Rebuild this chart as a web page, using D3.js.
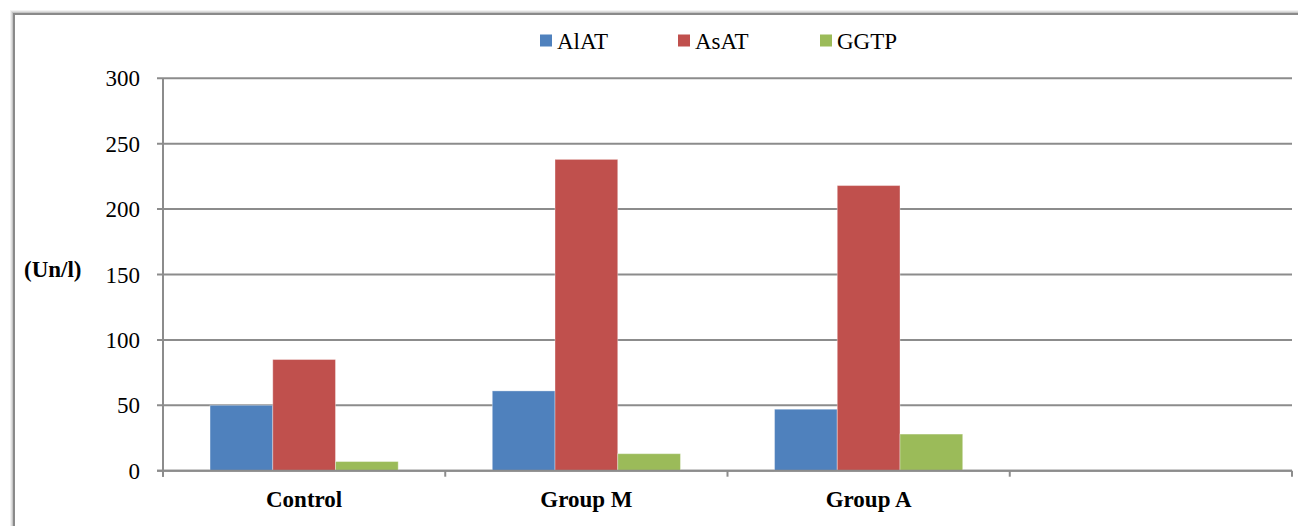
<!DOCTYPE html>
<html><head><meta charset="utf-8">
<script src="https://cdn.jsdelivr.net/npm/d3@7"></script>
<style>body{margin:0;background:#fff}</style>
</head><body><svg id="c" width="1298" height="526"></svg>
<script>
const categories = ["Control", "Group M", "Group A", ""];
const seriesNames = ["AlAT", "AsAT", "GGTP"];
const colors = ["#4F81BD", "#C0504D", "#9BBB59"];
const alat = [50, 61, 47, null];
const asat = [85, 238, 218, null];
const ggtp = [7, 13, 28, null];
const yTicks = [0, 50, 100, 150, 200, 250, 300];
const yLabel = "(Un/l)";

const series = [alat, asat, ggtp];
const svg = d3.select("#c");
const FF = `"Liberation Serif"`;

// chart area border with soft shadow (layered strokes)
[6, 4, 2].forEach((w, i) => {
  svg.append("rect").attr("x", 14).attr("y", 14).attr("width", 1400).attr("height", 700)
    .attr("fill", "none").attr("stroke", "#000").attr("stroke-opacity", 0.05 + i * 0.03).attr("stroke-width", w + 2);
});
svg.append("rect").attr("x", 14).attr("y", 14).attr("width", 1400).attr("height", 700)
  .attr("fill", "#fff").attr("stroke", "#8a8a8a").attr("stroke-width", 2);

const pL = 163, pR = 1292, pT = 78.3, pB = 470.7;
const x = d3.scaleBand().domain(d3.range(categories.length)).range([pL, pR]).padding(0);
const y = d3.scaleLinear().domain([0, 300]).range([pB, pT]);
const inner = d3.scaleBand().domain(d3.range(seriesNames.length)).range([0, x.bandwidth()]).paddingOuter(0.75).paddingInner(0);

svg.append("g").selectAll("line").data(yTicks).join("line")
  .attr("x1", pL - 6).attr("x2", pR).attr("y1", d => y(d)).attr("y2", d => y(d))
  .attr("stroke", "#8c8c8c").attr("stroke-width", 2);

svg.append("line").attr("x1", pL).attr("x2", pL).attr("y1", pT).attr("y2", pB + 6)
  .attr("stroke", "#8c8c8c").attr("stroke-width", 2);

const tickPos = d3.range(categories.length + 1).map(i => i < categories.length ? x(i) : pR);
svg.append("g").selectAll("line").data(tickPos).join("line")
  .attr("x1", d => d).attr("x2", d => d).attr("y1", pB).attr("y2", pB + 6)
  .attr("stroke", "#8c8c8c").attr("stroke-width", 2);

series.forEach((vals, si) => {
  svg.append("g").selectAll("rect").data(vals.map((v, i) => ({v, i})).filter(d => d.v != null)).join("rect")
    .attr("x", d => x(d.i) + inner(si)).attr("width", inner.bandwidth())
    .attr("y", d => y(d.v)).attr("height", d => y(0) - y(d.v))
    .attr("fill", colors[si]).attr("stroke", "rgba(255,255,255,0.35)").attr("stroke-width", 1);
});

svg.append("line").attr("x1", pL - 6).attr("x2", pR).attr("y1", pB).attr("y2", pB)
  .attr("stroke", "#8c8c8c").attr("stroke-width", 2);

svg.append("g").selectAll("text").data(yTicks).join("text")
  .attr("x", 140).attr("y", d => y(d) + 8).attr("text-anchor", "end")
  .attr("font-size", 23).style("font-family", FF).text(d => d);

svg.append("g").selectAll("text").data(categories).join("text")
  .attr("x", (d, i) => x(i) + x.bandwidth() / 2).attr("y", 507).attr("text-anchor", "middle")
  .attr("font-size", 23).attr("font-weight", "bold").style("font-family", FF).text(d => d);

svg.append("text").attr("x", 24).attr("y", 277).attr("font-size", 23).attr("font-weight", "bold")
  .style("font-family", FF).text(yLabel);

const legX = [540, 678, 820];
seriesNames.forEach((name, i) => {
  svg.append("rect").attr("x", legX[i]).attr("y", 34.5).attr("width", 12).attr("height", 12).attr("fill", colors[i]);
  svg.append("text").attr("x", legX[i] + 17).attr("y", 49).attr("font-size", 23).style("font-family", FF).text(name);
});
</script></body></html>
